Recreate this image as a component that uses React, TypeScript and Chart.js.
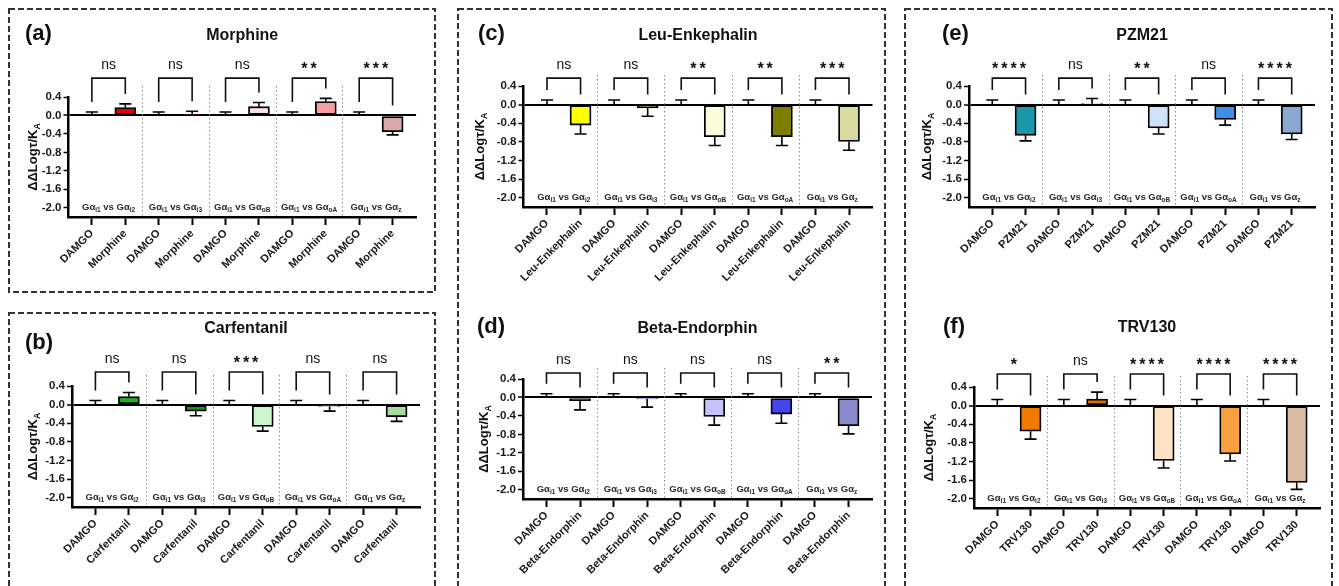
import React, { useEffect, useRef } from "react";
import { Chart, registerables } from "chart.js";
Chart.register(...registerables);

const FONT = "Arial, 'Liberation Sans', Helvetica, sans-serif";

// ---------- data ----------
const referenceLabel = "DAMGO";
const comparisonSubs = ["i2", "i3", "oB", "oA", "z"];
const yTickValues = [0.4, 0.0, -0.4, -0.8, -1.2, -1.6, -2.0];

const morphineValues = [0.17, 0.01, 0.19, 0.3, -0.35];
const morphineErrors = [0.08, 0.08, 0.09, 0.07, 0.07];
const morphineSig = ["ns", "ns", "ns", "**", "***"];
const morphineColors = ["#e60000", "#a00000", "#fde2e2", "#f5a0a0", "#d8a9a9"];

const carfentanilValues = [0.17, -0.14, -0.47, -0.04, -0.26];
const carfentanilErrors = [0.09, 0.1, 0.1, 0.1, 0.1];
const carfentanilSig = ["ns", "ns", "***", "ns", "ns"];
const carfentanilColors = ["#1db41d", "#169616", "#cdf5cd", "#cfe8cf", "#a8dca0"];

const leuValues = [-0.44, -0.07, -0.69, -0.69, -0.79];
const leuErrors = [0.19, 0.18, 0.19, 0.19, 0.19];
const leuSig = ["ns", "ns", "**", "**", "***"];
const leuColors = ["#ffff00", "#545400", "#fcfbdc", "#7d7d00", "#d9d9a0"];

const betaValues = [-0.07, -0.03, -0.41, -0.36, -0.61];
const betaErrors = [0.2, 0.18, 0.19, 0.2, 0.18];
const betaSig = ["ns", "ns", "ns", "ns", "**"];
const betaColors = ["#12127a", "#7474c4", "#c4c4fa", "#4545f0", "#8a8acc"];

const pzmValues = [-0.66, 0.02, -0.5, -0.32, -0.63];
const pzmErrors = [0.12, 0.11, 0.13, 0.12, 0.12];
const pzmSig = ["****", "ns", "**", "ns", "****"];
const pzmColors = ["#1a97a8", "#b0d0f0", "#cde3f8", "#3d8fe8", "#8aa8cf"];

const trvValues = [-0.55, 0.14, -1.18, -1.04, -1.65];
const trvErrors = [0.17, 0.15, 0.16, 0.15, 0.15];
const trvSig = ["*", "ns", "****", "****", "****"];
const trvColors = ["#f07a00", "#e07000", "#fde2c4", "#f9a040", "#d9bba3"];

const damgoErrors = [0.075, 0.09, 0.1, 0.08, 0.1, 0.13];

// ---------- layout ----------
type Cfg = {
  id: string; letter: string; drug: string;
  values: number[]; errors: number[]; sig: string[]; colors: string[]; damgoErr: number;
  canvas: { x: number; y: number; w: number; h: number };
  plot: { left: number; right: number; top: number; bottom: number };
  titleY: number; letterPos: [number, number]; bracketY: number; yTitleDx: number;
};

const panels: Cfg[] = [
  { id: "a", letter: "(a)", drug: "Morphine", values: morphineValues, errors: morphineErrors, sig: morphineSig, colors: morphineColors, damgoErr: damgoErrors[0],
    canvas: { x: 10, y: 10, w: 426, h: 281 }, plot: { left: 68.5, right: 416, top: 97, bottom: 217 }, titleY: 35, letterPos: [25, 33], bracketY: 0.81, yTitleDx: 36 },
  { id: "b", letter: "(b)", drug: "Carfentanil", values: carfentanilValues, errors: carfentanilErrors, sig: carfentanilSig, colors: carfentanilColors, damgoErr: damgoErrors[1],
    canvas: { x: 10, y: 315, w: 426, h: 271 }, plot: { left: 72, right: 420, top: 386, bottom: 507 }, titleY: 328, letterPos: [25, 342], bracketY: 0.7, yTitleDx: 40 },
  { id: "c", letter: "(c)", drug: "Leu-Enkephalin", values: leuValues, errors: leuErrors, sig: leuSig, colors: leuColors, damgoErr: damgoErrors[2],
    canvas: { x: 460, y: 10, w: 423, h: 286 }, plot: { left: 523.5, right: 872.5, top: 86, bottom: 207 }, titleY: 35, letterPos: [478, 33], bracketY: 0.57, yTitleDx: 44 },
  { id: "d", letter: "(d)", drug: "Beta-Endorphin", values: betaValues, errors: betaErrors, sig: betaSig, colors: betaColors, damgoErr: damgoErrors[3],
    canvas: { x: 460, y: 296, w: 423, h: 290 }, plot: { left: 523, right: 872, top: 379, bottom: 499 }, titleY: 328, letterPos: [477, 326], bracketY: 0.53, yTitleDx: 40 },
  { id: "e", letter: "(e)", drug: "PZM21", values: pzmValues, errors: pzmErrors, sig: pzmSig, colors: pzmColors, damgoErr: damgoErrors[4],
    canvas: { x: 907, y: 10, w: 423, h: 286 }, plot: { left: 969, right: 1315, top: 86, bottom: 207 }, titleY: 35, letterPos: [942, 33], bracketY: 0.57, yTitleDx: 43 },
  { id: "f", letter: "(f)", drug: "TRV130", values: trvValues, errors: trvErrors, sig: trvSig, colors: trvColors, damgoErr: damgoErrors[5],
    canvas: { x: 907, y: 296, w: 423, h: 290 }, plot: { left: 974, right: 1320, top: 387, bottom: 508 }, titleY: 327, letterPos: [943, 326], bracketY: 0.68, yTitleDx: 46 },
];

const boxes = [
  { x: 9, y: 9, w: 426, h: 283 },
  { x: 9, y: 313, w: 426, h: 300 },
  { x: 458, y: 9, w: 427, h: 600 },
  { x: 905, y: 9, w: 427, h: 600 },
];

type Part = { t: string; sub?: boolean };
function drawRich(ctx: CanvasRenderingContext2D, parts: Part[], cx: number, cy: number, size: number, color: string) {
  const big = `bold ${size}px ${FONT}`;
  const small = `bold ${Math.round(size * 0.68 * 10) / 10}px ${FONT}`;
  let w = 0;
  for (const p of parts) { ctx.font = p.sub ? small : big; w += ctx.measureText(p.t).width; }
  let x = cx - w / 2;
  const base = cy + size * 0.36;
  ctx.fillStyle = color;
  ctx.textAlign = "left";
  ctx.textBaseline = "alphabetic";
  for (const p of parts) {
    ctx.font = p.sub ? small : big;
    ctx.fillText(p.t, x, p.sub ? base + size * 0.22 : base);
    x += ctx.measureText(p.t).width;
  }
}

function overlayPlugin(cfg: Cfg) {
  return {
    id: "overlay_" + cfg.id,
    afterDatasetsDraw(chart: any) {
      const ctx: CanvasRenderingContext2D = chart.ctx;
      const xs = chart.scales.x;
      const ys = chart.scales.y;
      const ca = chart.chartArea;
      ctx.save();
      // dotted separators
      ctx.strokeStyle = "#8a8a8a";
      ctx.lineWidth = 1;
      ctx.setLineDash([1.5, 2.5]);
      for (let g = 1; g < 5; g++) {
        const x = Math.round(xs.getPixelForValue(2 * g - 0.5)) + 0.5;
        ctx.beginPath();
        ctx.moveTo(x, ca.top - 11);
        ctx.lineTo(x, ca.bottom - 1);
        ctx.stroke();
      }
      ctx.setLineDash([]);
      // error bars
      ctx.strokeStyle = "#000";
      ctx.lineWidth = 1.6;
      for (let g = 0; g < 5; g++) {
        const items = [
          { x: 2 * g, v: 0, e: cfg.damgoErr },
          { x: 2 * g + 1, v: cfg.values[g], e: cfg.errors[g] },
        ];
        for (const it of items) {
          const px = xs.getPixelForValue(it.x);
          const dir = it.v >= 0 ? 1 : -1;
          const y0 = ys.getPixelForValue(it.v);
          const y1 = ys.getPixelForValue(it.v + dir * it.e);
          ctx.beginPath();
          ctx.moveTo(px, y0);
          ctx.lineTo(px, y1);
          ctx.moveTo(px - 6, y1);
          ctx.lineTo(px + 6, y1);
          ctx.stroke();
        }
      }
      // brackets and significance
      const yTop = ys.getPixelForValue(cfg.bracketY);
      for (let g = 0; g < 5; g++) {
        const x1 = xs.getPixelForValue(2 * g);
        const x2 = xs.getPixelForValue(2 * g + 1);
        const rv = cfg.values[g] >= 0 ? cfg.values[g] + cfg.errors[g] : 0;
        const yl = Math.max(ys.getPixelForValue(cfg.damgoErr) - 10, yTop + 6);
        const yr = Math.max(ys.getPixelForValue(rv) - 10, yTop + 6);
        ctx.strokeStyle = "#111";
        ctx.lineWidth = 1.6;
        ctx.beginPath();
        ctx.moveTo(x1, yl);
        ctx.lineTo(x1, yTop);
        ctx.lineTo(x2, yTop);
        ctx.lineTo(x2, yr);
        ctx.stroke();
        const s = cfg.sig[g];
        const cx = (x1 + x2) / 2;
        const cy = yTop - 13;
        ctx.fillStyle = "#111";
        ctx.textAlign = "center";
        if (s === "ns") {
          ctx.font = `14px ${FONT}`;
          ctx.textBaseline = "middle";
          (ctx as any).letterSpacing = "0px";
          ctx.fillText(s, cx, cy);
        } else {
          ctx.font = `bold 16px ${FONT}`;
          ctx.textBaseline = "alphabetic";
          (ctx as any).letterSpacing = "3px";
          ctx.fillText(s, cx + 1.5, cy + 9);
          (ctx as any).letterSpacing = "0px";
        }
      }
      // group labels
      const gy = ys.getPixelForValue(-2.0) - 1;
      for (let g = 0; g < 5; g++) {
        const cx = xs.getPixelForValue(2 * g + 0.5);
        drawRich(ctx, [{ t: "Gα" }, { t: "i1", sub: true }, { t: " vs Gα" }, { t: comparisonSubs[g], sub: true }], cx, gy, 9.5, "#2a2a2a");
      }
      // y-axis title
      ctx.save();
      ctx.translate(ca.left - cfg.yTitleDx, (ca.top + ca.bottom) / 2);
      ctx.rotate(-Math.PI / 2);
      drawRich(ctx, [{ t: "ΔΔLogτ/K" }, { t: "A", sub: true }], 0, 0, 13, "#111");
      ctx.restore();
      ctx.restore();
    },
  };
}

function Panel({ cfg }: { cfg: Cfg }) {
  const ref = useRef<HTMLCanvasElement>(null);
  useEffect(() => {
    const c = ref.current!;
    const cv = cfg.canvas;
    const pl = cfg.plot;
    const xLabels: string[] = [];
    const data: { x: number; y: number }[] = [];
    const bg: string[] = [];
    for (let g = 0; g < 5; g++) {
      xLabels.push(referenceLabel, cfg.drug);
      data.push({ x: 2 * g, y: 0 }, { x: 2 * g + 1, y: cfg.values[g] });
      bg.push("#ffffff", cfg.colors[g]);
    }
    const chart = new Chart(c, {
      type: "bar",
      data: {
        datasets: [
          {
            data: data as any,
            backgroundColor: bg,
            borderColor: "#000",
            borderWidth: 1.8,
            borderSkipped: false,
            barThickness: 21,
          } as any,
        ],
      },
      options: {
        animation: false,
        responsive: false,
        maintainAspectRatio: false,
        devicePixelRatio: 1,
        layout: { padding: { top: pl.top - cv.y, right: cv.x + cv.w - pl.right, bottom: 0, left: 0 } },
        plugins: { legend: { display: false }, tooltip: { enabled: false }, title: { display: false } },
        scales: {
          x: {
            type: "linear",
            min: -0.7,
            max: 9.7,
            offset: false,
            afterBuildTicks: (s: any) => { s.ticks = xLabels.map((_, i) => ({ value: i })); },
            afterFit: (s: any) => { s.height = cv.y + cv.h - pl.bottom; },
            ticks: {
              autoSkip: false,
              maxRotation: 45,
              minRotation: 45,
              color: "#1a1a1a",
              padding: 2,
              font: { family: FONT, size: 11, weight: "bold" },
              callback: (v: any) => xLabels[Math.round(Number(v))] ?? "",
            },
            grid: { display: true, offset: false, drawOnChartArea: false, drawTicks: true, tickLength: 8, tickColor: "#000", tickWidth: 2, color: "#000" },
            border: { display: true, color: "#000", width: 2.5 },
          } as any,
          y: {
            type: "linear",
            min: -2.2,
            max: 0.4,
            afterBuildTicks: (s: any) => { s.ticks = yTickValues.map((v) => ({ value: v })); },
            afterFit: (s: any) => { s.width = pl.left - cv.x; },
            ticks: {
              color: "#1a1a1a",
              padding: 2,
              font: { family: FONT, size: 11.5, weight: "bold" },
              callback: (v: any) => Number(v).toFixed(1),
            },
            grid: {
              color: (ctx: any) => (ctx.tick && Math.abs(ctx.tick.value) < 1e-9 ? "#000" : "rgba(0,0,0,0)"),
              lineWidth: (ctx: any) => (ctx.tick && Math.abs(ctx.tick.value) < 1e-9 ? 2 : 1),
              tickColor: "#000",
              tickLength: 5,
              tickWidth: 1.5,
            },
            border: { display: true, color: "#000", width: 2.5 },
          } as any,
        },
      } as any,
      plugins: [overlayPlugin(cfg)],
    });
    return () => chart.destroy();
  }, [cfg]);
  const cv = cfg.canvas;
  const cx = (cfg.plot.left + cfg.plot.right) / 2;
  return (
    <>
      <canvas
        ref={ref}
        width={cv.w}
        height={cv.h}
        style={{ position: "absolute", left: cv.x, top: cv.y, width: cv.w, height: cv.h }}
      />
      <div
        style={{
          position: "absolute", left: cx, top: cfg.titleY, transform: "translate(-50%, -50%)",
          font: `bold 16px ${FONT}`, color: "#111", whiteSpace: "nowrap", lineHeight: "18px",
        }}
      >
        {cfg.drug}
      </div>
      <div
        style={{
          position: "absolute", left: cfg.letterPos[0], top: cfg.letterPos[1], transform: "translateY(-50%)",
          font: `bold 22px ${FONT}`, color: "#111", whiteSpace: "nowrap", lineHeight: "24px",
        }}
      >
        {cfg.letter}
      </div>
    </>
  );
}

export default function App() {
  return (
    <div
      style={{
        position: "absolute", left: 0, top: 0, width: 1339, height: 586, overflow: "hidden",
        background: "#fff", fontFamily: FONT,
      }}
    >
      <svg width={1339} height={586} style={{ position: "absolute", left: 0, top: 0 }}>
        {boxes.map((b, i) => (
          <rect key={i} x={b.x} y={b.y} width={b.w} height={b.h} fill="none" stroke="#333" strokeWidth={2} strokeDasharray="6 3" />
        ))}
      </svg>
      {panels.map((p) => (
        <Panel key={p.id} cfg={p} />
      ))}
    </div>
  );
}
